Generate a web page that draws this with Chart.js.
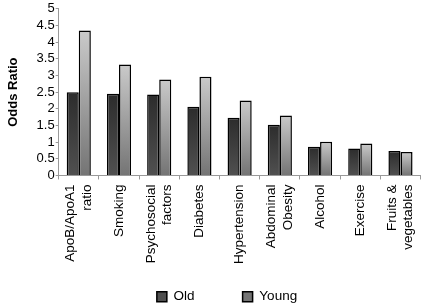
<!DOCTYPE html>
<html><head><meta charset="utf-8">
<script src="https://cdn.jsdelivr.net/npm/chart.js@4"></script>
<style>html,body{margin:0;padding:0;background:#fff}#wrap{width:438px;height:306px}</style>
</head><body><div id="wrap"><canvas id="c"></canvas></div>
<script>
const categories = [["ApoB/ApoA1","ratio"],"Smoking",["Psychosocial","factors"],"Diabetes","Hypertension",["Abdominal","Obesity"],"Alcohol","Exercise",["Fruits &","vegetables"]];
const seriesNames = ["Old", "Young"];
const oldValues = [2.5, 2.45, 2.43, 2.06, 1.73, 1.52, 0.86, 0.81, 0.73];
const youngValues = [4.35, 3.33, 2.88, 2.96, 2.25, 1.8, 1.01, 0.96, 0.7];
const yTicks = [0,0.5,1,1.5,2,2.5,3,3.5,4,4.5,5];

const gradStops = [["#2c2c2c","#505050"],["#cacaca","#747474"]];
function barGradient(c){
  const chart = c.chart;
  const ys = chart.scales && chart.scales.y;
  if (!chart.chartArea || !ys || c.raw === undefined) return gradStops[c.datasetIndex][1];
  const top = ys.getPixelForValue(c.raw), base = ys.getPixelForValue(0);
  if (!isFinite(top) || !isFinite(base) || top === base) return gradStops[c.datasetIndex][1];
  const g = chart.ctx.createLinearGradient(0, top, 0, base);
  g.addColorStop(0, gradStops[c.datasetIndex][0]);
  g.addColorStop(1, gradStops[c.datasetIndex][1]);
  return g;
}

// center multi-line rotated category labels on their tick
const centerMultiline = {
  id:'centerMultiline',
  beforeDraw(chart){
    const sx = chart.scales.x;
    const lh = Chart.helpers.toFont(sx.options.ticks.font).lineHeight;
    sx.getLabelItems().forEach(it=>{
      if (Array.isArray(it.label) && !it._centered){
        it.options.translation[0] -= (it.label.length-1)*lh/2;
        it._centered = true;
      }
    });
  }
};

const legendFont = {family:'Liberation Sans', size:13.5};
new Chart(document.getElementById('c'), {
  type:'bar',
  data:{labels:categories, datasets:[
    {label:seriesNames[0], data:oldValues, backgroundColor:barGradient, borderColor:'#000', borderWidth:1.5},
    {label:seriesNames[1], data:youngValues, backgroundColor:barGradient, borderColor:'#000', borderWidth:1.5}
  ]},
  options:{
    responsive:true, maintainAspectRatio:false, animation:false,
    layout:{padding:{left:18,right:2,top:-1,bottom:0}},
    datasets:{bar:{categoryPercentage:0.6, barPercentage:1}},
    plugins:{
      legend:{position:'bottom', maxHeight:37,
        labels:{boxWidth:10, boxHeight:10, padding:21, color:'#000', font:legendFont,
          generateLabels(chart){
            return chart.data.datasets.map((ds,i)=>({
              text: i===0 ? ds.label + '\u2003\u2003' : ds.label,
              fillStyle: gradStops[i][1], strokeStyle:'#000', lineWidth:1.5, datasetIndex:i, hidden:false
            }));
          }}},
      tooltip:{enabled:false}
    },
    scales:{
      x:{
        grid:{display:true, drawOnChartArea:false, tickLength:4, color:'#999', offset:true},
        border:{color:'#999'},
        ticks:{minRotation:90, maxRotation:90, color:'#000', font:{family:'Liberation Sans', size:13.5}, padding:5}
      },
      y:{
        min:0, max:5,
        afterBuildTicks(s){ s.ticks = yTicks.map(v=>({value:v})); },
        grid:{display:true, drawOnChartArea:false, tickLength:3, color:'#999'},
        border:{color:'#999'},
        ticks:{autoSkip:false, color:'#000', font:{family:'Liberation Sans', size:13}, padding:1, callback:v=>String(v)},
        title:{display:true, text:'Odds Ratio', color:'#000', font:{family:'Liberation Sans', size:13, weight:'bold'}, padding:{top:-12,bottom:14}}
      }
    }
  },
  plugins:[centerMultiline]
});
</script></body></html>
